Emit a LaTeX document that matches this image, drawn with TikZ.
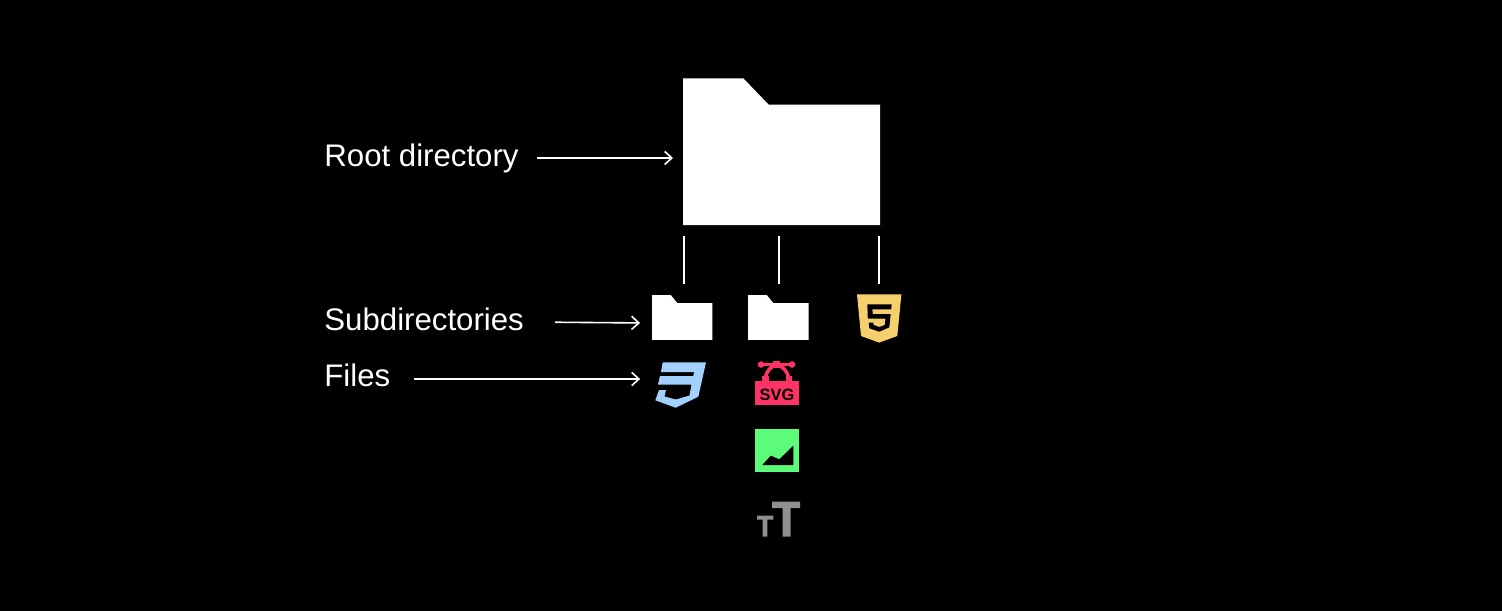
\documentclass[tikz,border=0pt]{standalone}
\usepackage{fontspec}
\setmainfont{Liberation Sans}
\usetikzlibrary{arrows.meta}
\definecolor{htmlyellow}{HTML}{F5D06C}
\definecolor{cssblue}{HTML}{A3D1FF}
\definecolor{svgpink}{HTML}{FF3366}
\definecolor{imggreen}{HTML}{5CFB7A}
\definecolor{fontgray}{HTML}{909090}
\tikzset{
  labeltext/.style={anchor=base west,inner sep=0pt,text=white,font=\fontsize{15.6}{18}\selectfont},
  iconbox/.style={inner sep=0pt,outer sep=0pt,draw=none,fill=none},
  linkline/.style={draw=white,line width=0.8pt},
  arrowlink/.style={linkline,-{Straight Barb[length=3.6pt,width=6.6pt,line width=0.8pt]}},
  folderfill/.style={fill=white,draw=none}
}
\begin{document}
\begin{tikzpicture}[x=0.5pt,y=-0.5pt]
\useasboundingbox (0,0) rectangle (1502,611);
\fill[black] (0,0) rectangle (1502,611);
% anchor boxes
\node[iconbox,minimum width=98.5pt,minimum height=73.4pt] (root) at (781.5,151.7) {};
\node[iconbox,minimum width=30.2pt,minimum height=22.4pt] (sub1) at (682.2,317.4) {};
\node[iconbox,minimum width=30.4pt,minimum height=22.4pt] (sub2) at (778.3,317.4) {};
\node[iconbox,minimum width=22pt,minimum height=24pt] (html) at (879,318.5) {};
\node[iconbox,minimum width=25.5pt,minimum height=22.7pt] (css) at (680.5,385) {};
% labels
\node[labeltext] (rootlabel) at (324,166) {Root directory};
\node[labeltext] (sublabel) at (324,330) {Subdirectories};
\node[labeltext] (fileslabel) at (324,386) {Files};
% folders
\fill[folderfill] (683,78.3) -- (743.3,78.3) -- (768.7,104.7) -- (880,104.7) -- (880,225) -- (683,225) -- cycle;
\fill[folderfill] (652,295) -- (670.7,295) -- (677.3,303) -- (712.4,303) -- (712.4,339.8) -- (652,339.8) -- cycle;
\fill[folderfill] (748,295) -- (766.7,295) -- (773.3,303) -- (808.7,303) -- (808.7,339.8) -- (748,339.8) -- cycle;
% html icon
\fill[htmlyellow] (857,294.4) -- (901.4,294.4) -- (897.3,336) -- (879.2,342.6) -- (861,336) -- cycle;
\fill[black] (867.3,304.3) -- (891.7,304.3) -- (891.2,309.3) -- (872.3,309.3) -- (872.8,314) -- (890.7,314) -- (889.3,327.3) -- (879.3,331.7) -- (869.3,328.3) -- (868.7,322.7) -- (873.3,322.7) -- (873.7,325) -- (879.3,327) -- (884.8,325) -- (885.5,318.5) -- (867.8,318.5) -- cycle;
% css icon
\fill[cssblue] (662.7,362.3) -- (706,362.3) -- (698.3,396.7) -- (675.7,407.7) -- (655.3,400.3) -- (659,390) -- (666,390) -- (664.5,396.5) -- (676,399.5) -- (689.5,395.5) -- (691.5,384.5) -- (658,384.5) -- (660,376) -- (693.2,376) -- (694.3,372) -- (661,372) -- cycle;
% svg icon
\fill[svgpink] (755,381) rectangle (799,404.6);
\fill[svgpink] (762,376) rectangle (769,382);
\fill[svgpink] (785.5,376) rectangle (792,382);
\fill[svgpink] (773.3,361) rectangle (780,367.5);
\draw[svgpink,line width=1.1pt] (761,364.5) -- (792,364.5);
\fill[svgpink] (761,364.5) circle [radius=3.3];
\fill[svgpink] (792,364.5) circle [radius=3.3];
\draw[svgpink,line width=1.8pt] (774.5,365.5) .. controls (770.5,367) and (767,371) .. (765.5,377);
\draw[svgpink,line width=1.8pt] (779,365.5) .. controls (783,367) and (787,371) .. (788.5,377);
\node[iconbox,text=black,font=\bfseries\fontsize{8.2}{9}\selectfont] (svgtext) at (777,394.5) {SVG};
% image icon
\fill[imggreen] (755.3,429.2) rectangle (799,472.2);
\fill[black] (762.3,465) -- (770.7,455.7) -- (779.3,459.3) -- (793.3,445.7) -- (793.3,465) -- cycle;
% font icon
\fill[fontgray] (772,501.7) -- (800,501.7) -- (800,508) -- (790.7,508) -- (790.7,536.5) -- (782.7,536.5) -- (782.7,508) -- (772,508) -- cycle;
\fill[fontgray] (757,515.7) -- (773.3,515.7) -- (773.3,519.7) -- (767.3,519.7) -- (767.3,536.5) -- (762.7,536.5) -- (762.7,519.7) -- (757,519.7) -- cycle;
% connectors
\coordinate (rootin) at (683,158);
\coordinate (subin) at (652,323);
\coordinate (filesin) at (655.3,379);
\draw[arrowlink,shorten <=9pt,shorten >=5pt] (rootlabel.east |- rootin) -- (rootin);
\draw[arrowlink,shorten <=15.5pt,shorten >=6pt] ([yshift=0.5pt]sublabel.east |- subin) -- (subin);
\draw[arrowlink,shorten <=11.5pt,shorten >=7.6pt] (fileslabel.east |- filesin) -- (filesin);
\coordinate (r1) at (684,225);
\coordinate (r2) at (779,225);
\coordinate (r3) at (879,225);
\draw[linkline,shorten <=5.5pt,shorten >=5.5pt] (r1) -- (r1 |- sub1.north);
\draw[linkline,shorten <=5.5pt,shorten >=5.5pt] (r2) -- (r2 |- sub2.north);
\draw[linkline,shorten <=5.5pt,shorten >=5.5pt] (r3) -- (r3 |- html.north);
\end{tikzpicture}
\end{document}
